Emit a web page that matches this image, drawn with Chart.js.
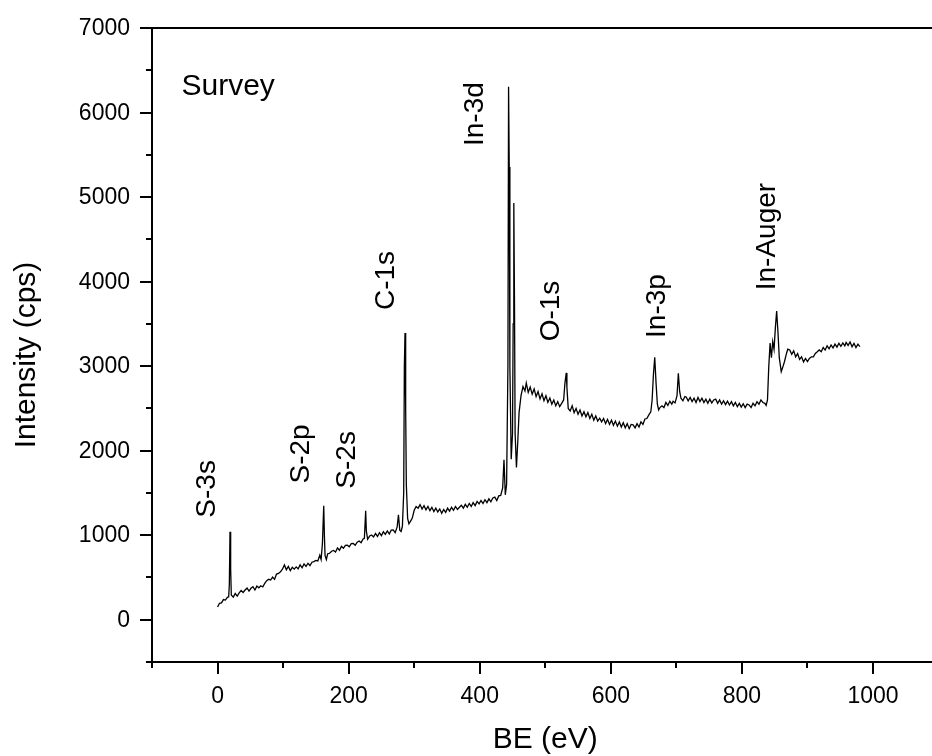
<!DOCTYPE html>
<html>
<head>
<meta charset="utf-8">
<script src="https://cdn.jsdelivr.net/npm/chart.js@4.4.1/dist/chart.umd.min.js"></script>
<style>
  body { margin: 0; background: #fff; }
  #wrap { width: 932px; height: 756px; }
</style>
</head>
<body>
<div id="wrap"><canvas id="survey"></canvas></div>
<script>
// XPS survey spectrum
var bindingEnergy = [
  0, 3, 6, 9, 12, 15, 17, 18, 19, 20,
  21, 24, 27, 30, 33, 36, 39, 42, 45, 48,
  51, 54, 57, 60, 63, 66, 69, 72, 75, 78,
  81, 84, 87, 90, 93, 96, 99, 102, 105, 108,
  111, 114, 117, 120, 123, 126, 129, 132, 135, 138,
  141, 144, 147, 150, 153, 156, 158, 160, 162, 163,
  164, 166, 168, 171, 174, 177, 180, 183, 186, 189,
  192, 195, 198, 201, 204, 207, 210, 213, 216, 219,
  222, 224, 226, 227, 229, 232, 235, 238, 241, 244,
  247, 250, 253, 256, 259, 262, 265, 268, 271, 274,
  276, 278, 280, 282, 284, 285, 286, 287, 288, 290,
  292, 294, 297, 300, 303, 306, 309, 312, 315, 318,
  321, 324, 327, 330, 333, 336, 339, 342, 345, 348,
  351, 354, 357, 360, 363, 366, 369, 372, 375, 378,
  381, 384, 387, 390, 393, 396, 399, 402, 405, 408,
  411, 414, 417, 420, 423, 426, 429, 432, 435, 437,
  439, 441, 443, 444, 445, 446, 448, 450, 451, 452,
  453, 454, 456, 458, 460, 463, 466, 469, 471, 474,
  477, 480, 483, 486, 489, 492, 495, 498, 501, 504,
  507, 510, 513, 516, 519, 522, 525, 528, 530, 532,
  533, 535, 538, 541, 544, 547, 550, 553, 556, 559,
  562, 565, 568, 571, 574, 577, 580, 583, 586, 589,
  592, 595, 598, 601, 604, 607, 610, 613, 616, 619,
  622, 625, 628, 631, 634, 637, 640, 643, 646, 649,
  652, 655, 658, 661, 663, 665, 667, 669, 671, 673,
  675, 678, 681, 684, 687, 690, 693, 695, 698, 701,
  703, 705, 707, 710, 713, 715, 718, 721, 724, 727,
  730, 733, 736, 739, 742, 745, 748, 751, 754, 757,
  760, 763, 766, 769, 772, 775, 778, 781, 784, 787,
  790, 793, 796, 799, 802, 805, 808, 811, 814, 817,
  820, 823, 826, 829, 832, 835, 837, 839, 841, 843,
  845, 847, 849, 851, 853, 855, 857, 860, 862, 865,
  868, 870, 873, 876, 879, 882, 885, 888, 891, 894,
  897, 900, 903, 906, 909, 912, 915, 918, 921, 924,
  927, 930, 933, 936, 939, 942, 945, 948, 951, 954,
  957, 959, 962, 965, 968, 971, 974, 977, 980
];
var intensity = [
  150, 195, 200, 238, 232, 265, 272, 420, 1040, 600,
  292, 268, 310, 280, 318, 345, 322, 352, 376, 338,
  372, 390, 352, 398, 378, 402, 388, 430, 462, 478,
  470, 505, 478, 540, 548, 566, 598, 648, 590, 630,
  582, 620, 598, 625, 602, 650, 615, 660, 632, 668,
  640, 680, 688, 702, 695, 765, 712, 900, 1348, 1000,
  760, 712, 780, 786, 810, 820, 802, 850, 822, 868,
  845, 880, 882, 862, 900, 902, 880, 918, 932, 912,
  955, 962, 1288, 1050, 952, 990, 1002, 980, 1020, 985,
  1030, 995, 1040, 1010, 1050, 1015, 1060, 1062, 1030, 1098,
  1241, 1060, 1045, 1105, 1500, 3000, 3392, 2500, 1600, 1200,
  1135, 1160, 1200, 1295, 1339, 1320, 1362, 1310, 1350, 1300,
  1340, 1290, 1330, 1280, 1320, 1275, 1310, 1260, 1305, 1270,
  1320, 1285, 1330, 1295, 1340, 1305, 1330, 1355, 1320, 1365,
  1330, 1375, 1340, 1385, 1350, 1400, 1370, 1410, 1375, 1420,
  1385, 1430, 1395, 1440, 1450, 1410, 1465, 1470, 1560, 1891,
  1478, 1600, 3000, 6304, 5357, 3000, 1900, 2200, 3500, 4929,
  3800, 2200, 1800, 2100, 2450, 2650, 2758, 2705, 2801, 2690,
  2752, 2668, 2730, 2640, 2700, 2612, 2672, 2590, 2650, 2570,
  2622, 2550, 2600, 2530, 2580, 2521, 2560, 2600, 2800, 2920,
  2750, 2500, 2470, 2530, 2450, 2500, 2430, 2480, 2410, 2460,
  2400, 2450, 2380, 2430, 2360, 2410, 2350, 2384, 2340, 2380,
  2320, 2370, 2310, 2360, 2300, 2350, 2290, 2340, 2280, 2330,
  2270, 2320, 2260, 2310, 2305, 2270, 2320, 2280, 2340, 2310,
  2375, 2380, 2423, 2460, 2600, 2900, 3105, 2800, 2550, 2482,
  2510, 2530, 2510, 2570, 2535, 2585, 2550, 2585, 2565, 2650,
  2916, 2700, 2620, 2590, 2640, 2635, 2590, 2630, 2580, 2620,
  2570, 2630, 2580, 2620, 2570, 2610, 2560, 2610, 2565, 2600,
  2610, 2560, 2600, 2550, 2590, 2545, 2585, 2540, 2580, 2530,
  2570, 2520, 2560, 2515, 2555, 2510, 2550, 2541, 2510, 2560,
  2530, 2580, 2550, 2600, 2570, 2560, 2535, 2600, 3000, 3274,
  3100, 3290, 3200, 3450, 3652, 3400, 3100, 2935, 2980, 3055,
  3150, 3200, 3191, 3140, 3180, 3110, 3150, 3080, 3110, 3050,
  3090, 3053, 3090, 3110, 3110, 3150, 3170, 3191, 3170, 3220,
  3190, 3240, 3205, 3250, 3215, 3260, 3225, 3270, 3235, 3275,
  3240, 3280, 3245, 3285, 3230, 3270, 3220, 3260, 3231
];

// peak labels, anchored in data units (BE, cps) at the label centre
var peakNames = ['S-3s', 'S-2p', 'S-2s', 'C-1s', 'In-3d', 'O-1s', 'In-3p', 'In-Auger'];
var peakLabelBE = [-16, 128, 198, 257, 393, 509, 671, 838];
var peakLabelCps = [1548, 1962, 1891, 4013, 5981, 3652, 3711, 4533];

var xMajor = 200, xMinor = 100;
var yMajor = 1000, yMinor = 500;

var FONT = "'Liberation Sans', Arial, sans-serif";

var points = bindingEnergy.map(function (e, i) { return { x: e, y: intensity[i] }; });

// frame, Origin-style major/minor ticks, tick labels and axis titles
var frameTicks = {
  id: 'frameTicks',
  afterDraw: function (chart) {
    var ctx = chart.ctx, a = chart.chartArea;
    var xs = chart.scales.x, ys = chart.scales.y;
    ctx.save();
    ctx.strokeStyle = '#000';
    ctx.lineWidth = 2;
    ctx.beginPath();
    ctx.moveTo(a.left, a.top); ctx.lineTo(a.left, a.bottom + 1);
    ctx.moveTo(a.left - 1, a.bottom); ctx.lineTo(a.right, a.bottom);
    ctx.moveTo(a.left - 12, a.top); ctx.lineTo(a.right, a.top);
    for (var v = xs.min; v <= xs.max; v += xMinor) {
      var px = Math.round(xs.getPixelForValue(v));
      var len = (v % xMajor === 0) ? 12 : 6;
      ctx.moveTo(px, a.bottom); ctx.lineTo(px, a.bottom + len);
    }
    for (var w = ys.min; w <= ys.max; w += yMinor) {
      var py = Math.round(ys.getPixelForValue(w));
      var l2 = (w % yMajor === 0) ? 12 : 6;
      ctx.moveTo(a.left, py); ctx.lineTo(a.left - l2, py);
    }
    ctx.stroke();

    ctx.fillStyle = '#000';
    ctx.font = '23px ' + FONT;
    ctx.textBaseline = 'alphabetic';
    ctx.textAlign = 'center';
    for (var t = 0; t <= 1000; t += xMajor) {
      ctx.fillText(String(t), xs.getPixelForValue(t), a.bottom + 41);
    }
    ctx.textAlign = 'right';
    for (var u = 0; u <= ys.max; u += yMajor) {
      ctx.fillText(String(u), a.left - 22, ys.getPixelForValue(u) + 7);
    }

    ctx.font = '30px ' + FONT;
    ctx.textAlign = 'center';
    ctx.fillText('BE (eV)', xs.getPixelForValue(500), a.bottom + 86);
    ctx.save();
    ctx.translate(35, (a.top + a.bottom) / 2 + 10);
    ctx.rotate(-Math.PI / 2);
    ctx.fillText('Intensity (cps)', 0, 0);
    ctx.restore();
    ctx.restore();
  }
};

var peakText = {
  id: 'peakText',
  afterDatasetsDraw: function (chart) {
    var ctx = chart.ctx;
    var xs = chart.scales.x, ys = chart.scales.y;
    ctx.save();
    ctx.fillStyle = '#000';
    ctx.font = '28px ' + FONT;
    ctx.textAlign = 'center';
    ctx.textBaseline = 'middle';
    peakNames.forEach(function (name, i) {
      ctx.save();
      ctx.translate(xs.getPixelForValue(peakLabelBE[i]), ys.getPixelForValue(peakLabelCps[i]));
      ctx.rotate(-Math.PI / 2);
      ctx.fillText(name, 0, 0);
      ctx.restore();
    });
    ctx.font = '30px ' + FONT;
    ctx.textAlign = 'left';
    ctx.textBaseline = 'alphabetic';
    ctx.fillText('Survey', xs.getPixelForValue(-55), ys.getPixelForValue(6205));
    ctx.restore();
  }
};

new Chart(document.getElementById('survey'), {
  type: 'scatter',
  data: {
    datasets: [{
      data: points,
      showLine: true,
      borderColor: '#000',
      borderWidth: 1.3,
      pointRadius: 0,
      tension: 0
    }]
  },
  plugins: [frameTicks, peakText],
  options: {
    responsive: true,
    maintainAspectRatio: false,
    animation: false,
    layout: { padding: { top: 28, right: 0, left: 0, bottom: 0 } },
    plugins: { legend: { display: false }, tooltip: { enabled: false } },
    scales: {
      x: {
        type: 'linear',
        min: -100,
        max: 1090,
        afterFit: function (s) { s.height = 94; },
        border: { display: false },
        grid: { display: false },
        ticks: { display: false, stepSize: xMinor }
      },
      y: {
        type: 'linear',
        min: -500,
        max: 7000,
        afterFit: function (s) { s.width = 152; },
        border: { display: false },
        grid: { display: false },
        ticks: { display: false, stepSize: yMinor }
      }
    }
  }
});
</script>
</body>
</html>
